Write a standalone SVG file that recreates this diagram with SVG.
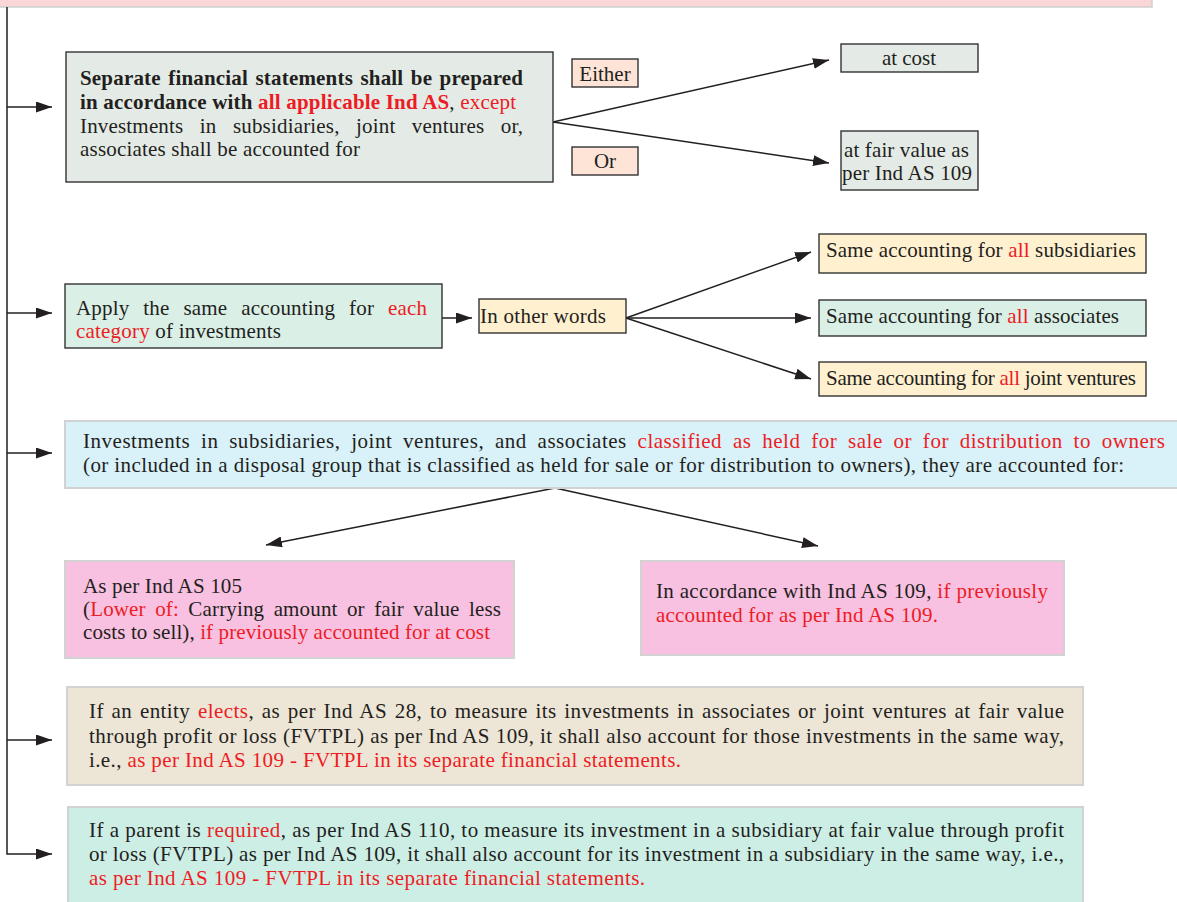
<svg xmlns="http://www.w3.org/2000/svg" width="1177" height="902" viewBox="0 0 1177 902">
<defs>
<marker id="ah" markerUnits="userSpaceOnUse" markerWidth="16" markerHeight="11" refX="16" refY="5.5" orient="auto">
<path d="M0,0 L16,5.5 L0,11 z" fill="#231f20"/>
</marker>
<style>
text{font-family:"Liberation Serif","Times New Roman",serif;font-size:21px;fill:#231f20}
.r{fill:#ed1c24}
.b{font-weight:bold}
.m{text-anchor:middle}
.dk{stroke:#333;stroke-width:1.4}
.lt{stroke:#d2d2d2;stroke-width:2}
.c{fill:none;stroke:#231f20;stroke-width:1.5}
.gray{fill:#e4ebe6}
.peach{fill:#fde4d6}
.mint{fill:#daefe6}
.cream{fill:#fff0d0}
</style>
</defs>
<rect width="1177" height="902" fill="#fff"/>
<rect x="-2" y="-2" width="1154" height="9" fill="#fbd6d7" stroke="#cfcfcf" stroke-width="1.5"/>

<g id="connectors">
<path class="c" d="M7,7 V854 H52" marker-end="url(#ah)"/>
<path class="c" d="M7,107 H52" marker-end="url(#ah)"/>
<path class="c" d="M7,313 H52" marker-end="url(#ah)"/>
<path class="c" d="M7,453 H52" marker-end="url(#ah)"/>
<path class="c" d="M7,740 H52" marker-end="url(#ah)"/>
<path class="c" d="M553,122 L829,60" marker-end="url(#ah)"/>
<path class="c" d="M553,122 L829,163" marker-end="url(#ah)"/>
<path class="c" d="M442,318 H472" marker-end="url(#ah)"/>
<path class="c" d="M626,318 L811,252" marker-end="url(#ah)"/>
<path class="c" d="M626,318 L811,318" marker-end="url(#ah)"/>
<path class="c" d="M626,318 L811,379" marker-end="url(#ah)"/>
<path class="c" d="M555,488 L266,545" marker-end="url(#ah)"/>
<path class="c" d="M555,488 L818,546" marker-end="url(#ah)"/>
</g>

<g id="separate">
<rect x="66" y="52" width="487" height="130" class="gray dk"/>
<text x="80" y="85" class="b" word-spacing="2" textLength="443" lengthAdjust="spacing">Separate financial statements shall be prepared</text>
<text x="80" y="109" textLength="436" lengthAdjust="spacing"><tspan class="b">in accordance with </tspan><tspan class="b r">all applicable Ind AS</tspan>, <tspan class="r">except</tspan></text>
<text x="80" y="133" word-spacing="11" textLength="443" lengthAdjust="spacing">Investments in subsidiaries, joint ventures or,</text>
<text x="80" y="156" textLength="280" lengthAdjust="spacing">associates shall be accounted for</text>
</g>

<g id="either">
<rect x="572" y="59" width="66" height="28" class="peach dk"/>
<text x="605" y="81" class="m">Either</text>
</g>
<g id="or">
<rect x="572" y="147" width="66" height="28" class="peach dk"/>
<text x="605" y="168" class="m">Or</text>
</g>
<g id="atcost">
<rect x="841" y="44" width="137" height="28" class="gray dk"/>
<text x="909" y="65" class="m">at cost</text>
</g>
<g id="fairvalue">
<rect x="841" y="131" width="137" height="59" class="gray dk"/>
<text x="844" y="157" textLength="125" lengthAdjust="spacing">at fair value as</text>
<text x="842" y="180" textLength="130" lengthAdjust="spacing">per Ind AS 109</text>
</g>

<g id="apply">
<rect x="65" y="284" width="377" height="64" class="mint dk"/>
<text x="76" y="315" word-spacing="8.5" textLength="351" lengthAdjust="spacing">Apply the same accounting for <tspan class="r">each</tspan></text>
<text x="76" y="338" textLength="205" lengthAdjust="spacing"><tspan class="r">category</tspan> of investments</text>
</g>
<g id="otherwords">
<rect x="479" y="299" width="147" height="34" class="cream dk"/>
<text x="480" y="323" textLength="126" lengthAdjust="spacing">In other words</text>
</g>
<g id="subsidiaries">
<rect x="819" y="234" width="327" height="39" class="cream dk"/>
<text x="826" y="257" textLength="310" lengthAdjust="spacing">Same accounting for <tspan class="r">all</tspan> subsidiaries</text>
</g>
<g id="associates">
<rect x="819" y="300" width="327" height="36" class="mint dk"/>
<text x="826" y="323" textLength="293" lengthAdjust="spacing">Same accounting for <tspan class="r">all</tspan> associates</text>
</g>
<g id="jointventures">
<rect x="819" y="362" width="327" height="34" class="cream dk"/>
<text x="826" y="385" textLength="310" lengthAdjust="spacing">Same accounting for <tspan class="r">all</tspan> joint ventures</text>
</g>

<g id="heldforsale">
<rect x="65" y="421" width="1114" height="67" fill="#d9f1f8" class="lt"/>
<text x="83" y="448" word-spacing="5" textLength="1082" lengthAdjust="spacing">Investments in subsidiaries, joint ventures, and associates <tspan class="r">classified as held for sale or for distribution to owners</tspan></text>
<text x="83" y="472" textLength="1041" lengthAdjust="spacing">(or included in a disposal group that is classified as held for sale or for distribution to owners), they are accounted for:</text>
</g>

<g id="indas105">
<rect x="65" y="561" width="449" height="97" fill="#f8c1e1" class="lt"/>
<text x="83" y="593" textLength="159" lengthAdjust="spacing">As per Ind AS 105</text>
<text x="83" y="616" word-spacing="4" textLength="418" lengthAdjust="spacing">(<tspan class="r">Lower of:</tspan> Carrying amount or fair value less</text>
<text x="83" y="639" textLength="407" lengthAdjust="spacing">costs to sell), <tspan class="r">if previously accounted for at cost</tspan></text>
</g>

<g id="indas109">
<rect x="641" y="561" width="423" height="94" fill="#f8c1e1" class="lt"/>
<text x="656" y="598" textLength="392" lengthAdjust="spacing">In accordance with Ind AS 109, <tspan class="r">if previously</tspan></text>
<text x="656" y="622" textLength="282" lengthAdjust="spacing" class="r">accounted for as per Ind AS 109.</text>
</g>

<g id="elects">
<rect x="67" y="687" width="1016" height="98" fill="#ede5d6" class="lt"/>
<text x="89" y="718" word-spacing="2" textLength="975" lengthAdjust="spacing">If an entity <tspan class="r">elects</tspan>, as per Ind AS 28, to measure its investments in associates or joint ventures at fair value</text>
<text x="89" y="743" textLength="975" lengthAdjust="spacing">through profit or loss (FVTPL) as per Ind AS 109, it shall also account for those investments in the same way,</text>
<text x="89" y="767" textLength="592" lengthAdjust="spacing">i.e., <tspan class="r">as per Ind AS 109 - FVTPL in its separate financial statements.</tspan></text>
</g>

<g id="required">
<rect x="68" y="807" width="1015" height="100" fill="#cdeee5" class="lt"/>
<text x="89" y="837" textLength="975" lengthAdjust="spacing">If a parent is <tspan class="r">required</tspan>, as per Ind AS 110, to measure its investment in a subsidiary at fair value through profit</text>
<text x="89" y="861" textLength="975" lengthAdjust="spacing">or loss (FVTPL) as per Ind AS 109, it shall also account for its investment in a subsidiary in the same way, i.e.,</text>
<text x="89" y="885" textLength="556" lengthAdjust="spacing" class="r">as per Ind AS 109 - FVTPL in its separate financial statements.</text>
</g>
</svg>
